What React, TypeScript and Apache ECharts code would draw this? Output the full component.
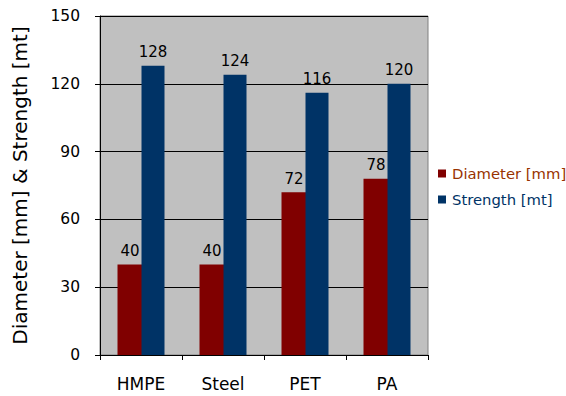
import React, { useEffect, useRef } from "react";
import * as echarts from "echarts";

const categories = ["HMPE", "Steel", "PET", "PA"];
const diameter = [40, 40, 72, 78];
const strength = [128, 124, 116, 120];
const yTicks = { min: 0, max: 150, interval: 30 };

const FONT = "DejaVu Sans";

export default function App() {
  const ref = useRef<HTMLDivElement>(null);
  useEffect(() => {
    const chart = echarts.init(ref.current!, null, { renderer: "svg" });
    chart.setOption({
      animation: false,
      backgroundColor: "#ffffff",
      textStyle: { fontFamily: FONT },
      grid: {
        left: 100,
        top: 16,
        width: 328,
        height: 339,
        show: true,
        backgroundColor: "#c0c0c0",
        borderColor: "#808080",
        borderWidth: 1,
      },
      legend: {
        orient: "vertical",
        left: 438,
        top: 166,
        padding: 0,
        itemWidth: 8,
        itemHeight: 8,
        itemGap: 11,
        icon: "rect",
        textStyle: { fontFamily: FONT, fontSize: 14.8, padding: [0, 0, 0, 1] },
        data: [
          { name: "Diameter [mm]", textStyle: { color: "#993300" } },
          { name: "Strength [mt]", textStyle: { color: "#003366" } },
        ],
      },
      xAxis: {
        type: "category",
        data: categories,
        axisLine: { lineStyle: { color: "#000", width: 1 } },
        axisTick: { show: true, length: 5, lineStyle: { color: "#000" } },
        axisLabel: { color: "#000", fontSize: 17, fontFamily: FONT, margin: 20 },
      },
      yAxis: {
        type: "value",
        min: yTicks.min,
        max: yTicks.max,
        interval: yTicks.interval,
        name: "Diameter [mm] & Strength [mt]",
        nameLocation: "middle",
        nameGap: 70,
        nameTextStyle: { color: "#000", fontSize: 20, fontFamily: FONT },
        axisLine: { show: true, lineStyle: { color: "#000", width: 1 } },
        axisTick: { show: true, length: 5, lineStyle: { color: "#000" } },
        axisLabel: { color: "#000", fontSize: 15.5, fontFamily: FONT, margin: 20 },
        splitLine: { show: true, lineStyle: { color: "#000", width: 1 } },
      },
      series: [
        {
          name: "Diameter [mm]",
          type: "bar",
          data: diameter,
          barWidth: 25,
          barGap: "-4%",
          itemStyle: { color: "#800000" },
          label: { show: true, position: "top", distance: 6, color: "#000", fontSize: 15, fontFamily: FONT },
        },
        {
          name: "Strength [mt]",
          type: "bar",
          data: strength,
          barWidth: 23,
          itemStyle: { color: "#003366" },
          label: { show: true, position: "top", distance: 6, color: "#000", fontSize: 15, fontFamily: FONT },
        },
      ],
    });
    return () => chart.dispose();
  }, []);
  return (
    <div
      ref={ref}
      style={{ position: "fixed", left: 0, top: 0, width: 566, height: 396 }}
    />
  );
}
